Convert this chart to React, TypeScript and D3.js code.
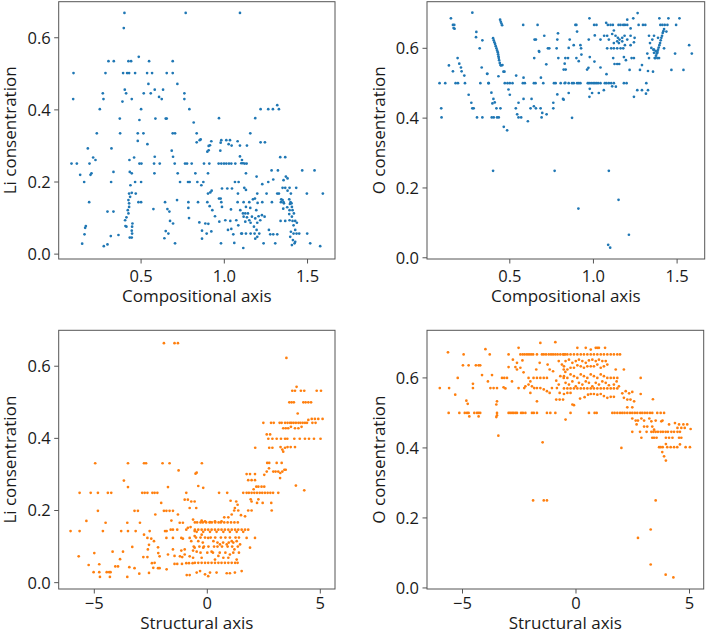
import React from "react";
import * as d3 from "d3";

// ---------- data ----------
const compLi: [number, number][] = [
  [0.40,0.669],[0.396,0.627],[0.768,0.669],[1.094,0.669],[0.486,0.547],
  [0.304,0.535],[0.336,0.535],[0.424,0.535],[0.44,0.535],[0.548,0.535],[0.69,0.535],
  [0.094,0.502],[0.286,0.502],[0.392,0.502],[0.416,0.502],[0.428,0.502],[0.464,0.502],[0.536,0.502],[0.566,0.502],[0.654,0.502],[0.69,0.502],
  [0.718,0.472],[0.544,0.472],
  [0.402,0.456],[0.41,0.446],[0.516,0.446],[0.558,0.446],[0.582,0.456],[0.608,0.436],[0.624,0.43],[0.632,0.456],[0.76,0.446],[0.27,0.446],
  [0.092,0.43],[0.274,0.43],[0.388,0.423],[0.444,0.43],[0.76,0.43],
  [0.252,0.402],[0.5,0.402],[0.79,0.402],
  [0.372,0.376],[0.49,0.372],[0.586,0.376],[0.648,0.376],[0.654,0.376],[0.816,0.365],
  [0.234,0.335],[0.374,0.335],[0.48,0.335],[0.514,0.335],[0.69,0.335],[0.704,0.335],[0.834,0.335],
  [0.48,0.314],[0.538,0.305],[0.834,0.31],
  [0.18,0.293],[0.322,0.293],[0.684,0.287],
  [0.212,0.268],[0.226,0.261],[0.458,0.268],[0.582,0.27],[0.692,0.27],[0.43,0.261],
  [0.082,0.251],[0.114,0.251],[0.19,0.251],[0.49,0.251],[0.502,0.251],[0.578,0.251],[0.612,0.251],[0.702,0.251],[0.764,0.251],[0.776,0.251],[0.804,0.251],
  [0.202,0.224],[0.196,0.22],[0.334,0.228],[0.432,0.228],[0.444,0.224],[0.58,0.224],[0.72,0.224],[0.826,0.224],[0.134,0.22],
  [0.158,0.2],[0.32,0.2],[0.464,0.2],[0.5,0.2],[0.734,0.2],[0.782,0.2],[0.792,0.2],
  [0.436,0.191],
  [0.428,0.168],[0.444,0.17],[0.468,0.168],[0.434,0.159],[0.424,0.15],[0.428,0.141],[0.428,0.131],[0.42,0.122],[0.424,0.113],[0.412,0.102],[0.404,0.094],[0.406,0.078],[0.412,0.076],[0.448,0.085],[0.446,0.076],[0.444,0.065],[0.446,0.057],[0.432,0.046],[0.444,0.046],
  [0.484,0.144],[0.5,0.144],[0.188,0.144],[0.644,0.144],[0.784,0.144],
  [0.574,0.125],[0.658,0.125],[0.67,0.118],[0.784,0.128],[0.298,0.118],[0.334,0.118],
  [0.716,0.15],[0.788,0.1],[0.674,0.092],[0.692,0.085],
  [0.168,0.078],[0.164,0.073],
  [0.16,0.055],[0.318,0.05],[0.364,0.053],[0.648,0.064],[0.664,0.057],[0.64,0.044],
  [0.146,0.029],[0.276,0.022],[0.298,0.027],[0.704,0.03],
  [1.318,0.413],[1.218,0.402],[1.264,0.402],[1.292,0.402],[1.328,0.402],
  [1.186,0.377],[0.968,0.377],[1.156,0.335],
  [0.852,0.316],[0.858,0.318],[0.906,0.3],[0.922,0.313],
  [0.982,0.316],[1.012,0.316],[1.034,0.316],[1.026,0.305],[1.044,0.301],[1.08,0.313],[1.094,0.301],[1.136,0.301],[1.218,0.31],[1.244,0.31],
  [0.978,0.309],[0.914,0.302],[0.898,0.284],[0.906,0.288],[0.976,0.287],
  [1.094,0.271],[1.106,0.261],[1.112,0.252],[1.102,0.252],[1.336,0.269],[1.366,0.269],
  [0.878,0.251],[0.91,0.251],[0.966,0.251],[0.982,0.251],[0.998,0.251],[1.012,0.251],[1.028,0.251],[1.042,0.251],[1.066,0.251],[1.122,0.251],[1.134,0.251],
  [0.902,0.224],[1.13,0.224],[1.194,0.215],[1.284,0.232],[1.322,0.232],[1.468,0.232],[1.542,0.232],
  [1.37,0.215],[1.38,0.21],[1.356,0.205],
  [0.838,0.2],[0.874,0.2],[0.862,0.191],[1.064,0.2],[1.086,0.2],[1.264,0.2],[1.294,0.207],[1.228,0.194],
  [0.924,0.176],[0.902,0.168],[0.916,0.171],[0.986,0.182],[1.018,0.182],[1.046,0.182],[1.12,0.184],[1.13,0.178],
  [1.082,0.168],[1.198,0.168],[1.254,0.168],[1.318,0.168],[1.328,0.168],[1.35,0.184],[1.366,0.184],[1.392,0.184],[1.38,0.176],[1.4,0.168],[1.432,0.184],[1.496,0.168],[1.592,0.168],
  [0.842,0.144],[0.898,0.144],[0.968,0.154],[0.978,0.154],[0.982,0.144],[1.08,0.144],[1.116,0.144],[1.15,0.144],[1.172,0.152],[1.184,0.154],[1.2,0.142],[1.228,0.144],[1.286,0.144],[1.342,0.152],[1.34,0.144],[1.356,0.144],[1.39,0.152],[1.398,0.144],[1.404,0.141],
  [0.912,0.133],[0.928,0.122],[0.986,0.131],[1.04,0.124],[1.096,0.122],[1.13,0.131],[1.156,0.128],[1.192,0.122],[1.354,0.126],[1.41,0.122],[1.378,0.13],[1.39,0.111],
  [1.112,0.113],[1.126,0.113],[1.142,0.113],[1.116,0.104],[1.136,0.102],[1.15,0.094],[1.166,0.104],[1.186,0.099],[1.206,0.105],[1.226,0.108],[1.242,0.104],[1.216,0.094],[1.198,0.087],[1.158,0.087],[1.126,0.09],[1.178,0.076],[1.194,0.067],[1.21,0.057],[1.182,0.057],[1.158,0.057],[1.13,0.057],[1.106,0.057],[1.186,0.043],[1.198,0.048],
  [0.944,0.105],[1.036,0.092],[1.072,0.094],[1.084,0.08],[1.042,0.07],[1.006,0.094],[0.97,0.09],
  [0.85,0.088],[0.886,0.085],[0.904,0.084],[0.922,0.063],[0.866,0.065],[0.894,0.057],[0.866,0.043],
  [1.022,0.067],[1.054,0.055],[1.102,0.057],[1.268,0.067],[1.276,0.055],[1.294,0.055],[1.318,0.055],[1.236,0.03],[1.306,0.03],
  [0.98,0.03],[1.06,0.031],[1.114,0.017],
  [1.394,0.139],[1.406,0.131],[1.392,0.122],[1.418,0.113],[1.406,0.104],[1.392,0.094],[1.41,0.092],[1.426,0.092],[1.436,0.087],[1.416,0.08],[1.426,0.067],[1.4,0.062],[1.416,0.057],[1.434,0.057],[1.45,0.057],[1.396,0.048],[1.412,0.039],[1.422,0.03],[1.406,0.025],[1.426,0.034],[1.498,0.057],[1.516,0.03],[1.576,0.022],[1.338,0.092],[1.366,0.092],
  [1.35,0.15],[1.358,0.141],
];

const compO: [number, number][] = [
  [0.148,0.686],[0.276,0.702],[0.16,0.667],[0.168,0.667],[0.17,0.656],[0.164,0.658],
  [0.442,0.682],[0.446,0.676],[0.45,0.671],[0.454,0.666],[0.58,0.667],[0.666,0.667],
  [0.3,0.647],[0.298,0.632],[0.336,0.623],[0.32,0.6],[0.332,0.545],[0.364,0.527],[0.374,0.5],[0.39,0.473],[0.402,0.455],[0.41,0.445],[0.42,0.428],[0.404,0.402],[0.424,0.402],[0.434,0.402],[0.444,0.428],[0.464,0.375],[0.484,0.365],[0.492,0.482],[0.5,0.467],[0.486,0.5],[0.47,0.5],[0.516,0.5],[0.538,0.522],[0.582,0.516],[0.582,0.455],[0.552,0.444],[0.536,0.428],[0.544,0.411],[0.552,0.402],[0.568,0.402],[0.608,0.391],[0.63,0.455],[0.624,0.428],[0.644,0.434],[0.656,0.428],[0.684,0.428],[0.694,0.415],[0.69,0.402],[0.72,0.411],[0.686,0.516],[0.7,0.5],[0.76,0.444],[0.76,0.428],[0.784,0.468],[0.818,0.455],[0.79,0.572],[0.78,0.6],[0.784,0.625],[0.788,0.643],[0.706,0.636],[0.656,0.625],[0.648,0.625],[0.646,0.572],[0.674,0.592],[0.676,0.59],[0.718,0.554],[0.728,0.6],[0.736,0.6],[0.828,0.556],[0.834,0.539],[0.832,0.501],[0.804,0.5],[0.764,0.5],[0.774,0.5],[0.644,0.5],[0.654,0.5],[0.59,0.5],[0.578,0.5],[0.5,0.5],
  [0.4,0.629],[0.404,0.623],[0.408,0.617],[0.412,0.612],[0.416,0.606],[0.42,0.6],[0.424,0.594],[0.428,0.589],[0.43,0.583],[0.432,0.577],[0.434,0.572],[0.436,0.566],[0.44,0.558],[0.444,0.552],[0.448,0.551],[0.456,0.552],[0.462,0.533],[0.468,0.533],[0.432,0.52],
  [0.08,0.5],[0.114,0.5],[0.09,0.428],[0.092,0.402],
  [0.136,0.551],[0.16,0.534],[0.188,0.572],[0.198,0.556],[0.208,0.545],[0.212,0.534],[0.228,0.522],[0.176,0.5],[0.19,0.5],[0.232,0.5],[0.254,0.467],[0.27,0.444],[0.276,0.428],[0.284,0.428],[0.304,0.402],[0.336,0.402],[0.392,0.402],[0.396,0.442],[0.372,0.5],[0.324,0.5],[0.366,0.527],
  [0.4,0.249],[0.768,0.249],
  [1.264,0.701],[1.202,0.682],[1.238,0.686],[0.976,0.686],[1.394,0.686],[1.448,0.686],[1.514,0.686],
  [0.892,0.667],[0.898,0.667],[1.004,0.667],[1.018,0.667],[1.076,0.673],[1.086,0.667],[1.102,0.667],[1.116,0.667],[1.15,0.667],[1.162,0.667],[1.178,0.667],[1.188,0.667],[1.202,0.667],[1.27,0.667],[1.296,0.667],[1.31,0.667],[1.4,0.667],[1.412,0.667],[1.426,0.667],[1.442,0.667],[1.494,0.667],
  [0.902,0.648],[1.122,0.651],[1.222,0.657],[1.436,0.648],[1.422,0.655],
  [0.858,0.625],[0.972,0.625],[1.008,0.637],[1.042,0.625],[1.064,0.636],[1.082,0.636],[1.092,0.625],[1.112,0.641],[1.132,0.636],[1.146,0.63],[1.156,0.625],[1.172,0.63],[1.186,0.636],[1.202,0.625],[1.222,0.636],[1.246,0.63],[1.332,0.636],[1.362,0.636],[1.352,0.625],[1.386,0.63],
  [0.852,0.601],[0.882,0.609],[0.922,0.609],[0.926,0.6],[1.082,0.6],[1.106,0.6],[1.122,0.6],[1.142,0.6],[1.162,0.6],[1.178,0.6],[1.188,0.609],[1.222,0.609],[1.122,0.615],[1.152,0.615],[1.142,0.62],[1.172,0.62],[1.242,0.617],[1.338,0.615],[1.346,0.601],[1.362,0.596],[1.372,0.592],[1.382,0.587],[1.422,0.6],[1.572,0.609],[1.588,0.585],
  [1.418,0.649],[1.414,0.644],[1.41,0.636],[1.406,0.63],[1.402,0.623],[1.398,0.615],[1.394,0.609],[1.39,0.602],[1.386,0.596],[1.382,0.591],[1.378,0.585],[1.374,0.579],[1.37,0.572],[1.366,0.572],[1.362,0.587],[1.358,0.596],[1.382,0.572],[1.392,0.572],
  [0.832,0.572],[0.848,0.572],[0.898,0.572],[0.912,0.563],[0.928,0.582],[0.978,0.575],[1.006,0.562],[1.042,0.545],[1.118,0.572],[1.126,0.555],[1.142,0.555],[1.154,0.555],[1.182,0.575],[1.194,0.566],[1.228,0.572],[1.242,0.572],[1.29,0.552],[1.322,0.585],[1.332,0.572],[1.488,0.585],[0.822,0.539],[0.962,0.539],[0.97,0.544],[1.078,0.526],[1.216,0.538],[1.278,0.538],[1.326,0.535],[1.356,0.533],[1.466,0.538],[1.538,0.538],
  [0.828,0.5],[0.852,0.5],[0.872,0.5],[0.882,0.5],[0.902,0.5],[0.912,0.5],[0.922,0.5],[0.966,0.5],[0.974,0.5],[0.986,0.5],[0.998,0.5],[1.008,0.5],[1.018,0.5],[1.028,0.5],[1.042,0.5],[1.068,0.5],[1.078,0.5],[1.092,0.5],[1.106,0.5],[1.122,0.5],[1.134,0.49],[1.182,0.5],[1.198,0.5],[1.316,0.5],
  [0.978,0.484],[0.976,0.461],[0.992,0.472],[1.032,0.472],[1.062,0.48],[1.112,0.491],[1.242,0.461],[1.262,0.48],[1.29,0.48],[1.314,0.47],[1.326,0.48],[0.852,0.472],[0.872,0.401],[0.822,0.453],
  [1.092,0.249],[1.15,0.166],[0.91,0.141],[1.212,0.066],[1.088,0.037],[1.1,0.029],
];

const structLi: [number, number][] = [
  [-1.92,0.664],[-1.45,0.664],[-1.3,0.664],
  [-4.96,0.331],[-3.51,0.331],[-2.8,0.331],[-2.71,0.331],[-1.98,0.331],[-1.67,0.331],[-0.24,0.331],
  [-1.27,0.311],[-0.52,0.302],[-3.69,0.283],[-3.51,0.265],[-1.74,0.265],[-0.47,0.305],[-0.4,0.268],[-0.18,0.263],
  [-5.65,0.249],[-5.16,0.249],[-4.84,0.249],[-4.4,0.249],[-4.25,0.249],[-2.88,0.249],[-2.77,0.249],[-2.65,0.249],[-2.43,0.249],[-2.33,0.249],[-2.21,0.249],[-0.93,0.249],
  [-2.04,0.221],[-1.0,0.23],[-0.86,0.23],[-0.71,0.225],[-0.56,0.225],[-0.49,0.207],[-0.78,0.207],
  [-4.84,0.199],[-3.22,0.199],[-3.07,0.199],[-1.92,0.199],[-1.81,0.199],[-1.67,0.199],[-1.52,0.199],
  [-2.3,0.189],[-1.3,0.189],
  [-5.35,0.171],[-4.5,0.166],[-2.98,0.166],[-3.54,0.166],[-1.59,0.172],[-1.22,0.166],[-1.08,0.166],[-0.63,0.175],
  [-6.05,0.143],[-5.65,0.143],[-4.62,0.143],[-3.81,0.143],[-3.51,0.143],[-3.17,0.143],[-2.55,0.143],[-1.87,0.143],[-1.8,0.143],[-1.62,0.147],[-1.52,0.147],[-1.33,0.147],[-0.93,0.147],[-0.86,0.152],[-0.74,0.154],[-0.56,0.143],
  [-2.8,0.133],[-2.65,0.124],[-2.48,0.122],[-2.36,0.115],[-1.81,0.124],[-1.52,0.124],[-1.15,0.124],[-1.08,0.122],[-0.78,0.124],[-0.71,0.115],[-0.56,0.129],
  [-3.32,0.099],[-2.63,0.092],[-2.58,0.105],[-2.18,0.098],[-1.52,0.092],[-1.15,0.089],[-1.0,0.092],[-0.63,0.089],[-0.56,0.097],
  [-5.69,0.073],[-5.0,0.082],[-4.19,0.086],[-3.73,0.086],[-3.86,0.065],[-2.83,0.071],[-2.65,0.071],[-2.17,0.082],[-2.11,0.073],[-1.74,0.078],[-1.45,0.074],[-1.21,0.073],[-1.11,0.071],[-1.0,0.078],[-0.78,0.073],[-0.63,0.069],
  [-5.25,0.049],[-4.78,0.051],[-4.07,0.045],[-3.95,0.045],[-3.45,0.043],[-3.22,0.04],[-2.45,0.054],[-2.33,0.055],[-2.39,0.041],[-2.18,0.04],[-2.11,0.04],[-1.8,0.037],[-1.45,0.052],[-1.33,0.052],[-1.12,0.052],[-0.93,0.054],[-0.81,0.054],[-0.65,0.054],
  [-5.03,0.029],[-4.78,0.029],[-4.45,0.029],[-4.34,0.029],[-4.28,0.029],[-4.75,0.016],[-4.31,0.016],[-3.01,0.025],[-3.54,0.016],[-2.58,0.027],[-0.91,0.021],[-0.78,0.021],
  [3.5,0.623],
  [3.95,0.543],[3.76,0.532],[3.88,0.532],[4.14,0.532],[4.29,0.532],[4.84,0.532],[5.03,0.532],
  [3.63,0.5],[3.73,0.5],[3.83,0.5],[4.25,0.5],[4.35,0.5],[4.47,0.5],[4.59,0.5],
  [4.0,0.469],[4.47,0.451],[4.62,0.454],[4.76,0.454],[4.91,0.454],[5.1,0.454],
  [2.48,0.443],[2.82,0.443],[2.94,0.443],[3.2,0.443],[3.29,0.443],[3.44,0.443],[3.55,0.443],[3.66,0.443],[3.73,0.443],[3.82,0.443],[3.92,0.443],[4.03,0.443],[4.12,0.443],[4.22,0.443],[4.32,0.443],[4.41,0.443],[4.65,0.443],[4.79,0.443],
  [3.36,0.428],[3.47,0.428],[3.58,0.428],[3.7,0.432],[3.88,0.428],[4.03,0.428],[4.17,0.432],
  [2.63,0.411],[2.78,0.411],
  [2.7,0.399],[2.88,0.399],[3.07,0.399],[3.26,0.399],[3.44,0.399],[3.54,0.399],[3.85,0.399],[4.09,0.399],[4.32,0.399],[4.5,0.399],[4.72,0.399],[5.01,0.399],
  [2.12,0.374],[2.74,0.374],[2.88,0.374],[3.24,0.376],[3.32,0.369],[3.36,0.363],[3.44,0.374],[3.55,0.376],[3.69,0.376],[3.88,0.376],
  [2.65,0.332],[2.74,0.332],[3.07,0.332],[3.29,0.332],[2.73,0.317],[2.63,0.308],[2.52,0.299],[2.92,0.308],[3.02,0.308],[3.14,0.308],[3.23,0.304],[3.32,0.308],[3.41,0.313],[3.47,0.313],[3.22,0.29],[3.92,0.269],[4.29,0.256],
  [1.74,0.301],[1.89,0.301],[2.11,0.301],[1.81,0.284],[1.96,0.284],[2.11,0.284],[2.26,0.266],[2.4,0.266],[2.52,0.266],[2.05,0.259],[2.17,0.266],
  [1.59,0.249],[1.74,0.249],[1.84,0.249],[1.96,0.249],[2.08,0.249],[2.2,0.249],[2.32,0.249],[2.43,0.249],[2.55,0.249],[2.67,0.249],[2.79,0.249],[2.91,0.249],[3.14,0.249],[0.52,0.249],[0.88,0.249],
  [1.92,0.231],[1.96,0.225],[2.26,0.231],[2.2,0.221],[2.45,0.221],[2.83,0.221],[2.85,0.2],[1.81,0.2],[1.96,0.2],
  [1.03,0.227],[1.28,0.225],[1.34,0.216],[1.22,0.207],[1.19,0.2],[1.37,0.2],[1.49,0.187],[1.67,0.184],[1.08,0.189],[0.93,0.181],[0.75,0.181],[0.63,0.17],[0.34,0.17],[0.12,0.168],[-0.1,0.17],[-0.25,0.172],
  [-0.55,0.147],[-0.4,0.147],[-0.25,0.147],[-0.1,0.147],[0.04,0.147],[0.19,0.147],[0.34,0.147],[0.49,0.147],[0.63,0.147],[0.78,0.147],[0.93,0.147],[1.08,0.147],[1.23,0.147],[1.37,0.147],[1.52,0.147],[1.67,0.147],[1.81,0.147],
  [-0.47,0.141],[-0.18,0.141],[0.12,0.141],[0.41,0.141],[0.71,0.141],[1.0,0.141],[1.3,0.141],[1.59,0.141],
  [1.74,0.124],[2.11,0.124],[1.89,0.097],[1.3,0.115],[1.45,0.106],[1.08,0.115],[0.86,0.106],[0.56,0.106],[0.27,0.115],[0.04,0.124],[-0.25,0.133],[-0.4,0.115],[1.2,0.092],[1.0,0.078],[0.71,0.069],[0.49,0.074],[0.19,0.086],[-0.18,0.097],[-0.47,0.086],
  [-0.55,0.055],[-0.4,0.055],[-0.25,0.055],[-0.1,0.055],[0.04,0.055],[0.19,0.055],[0.34,0.055],[0.49,0.055],[0.63,0.055],[0.78,0.055],[0.93,0.055],[1.08,0.055],[1.23,0.055],[1.34,0.055],
  [-0.25,0.069],[0.34,0.064],[0.93,0.069],[1.3,0.064],
  [-0.32,0.032],[-0.1,0.023],[0.12,0.028],[0.41,0.028],[0.86,0.026],[1.0,0.026],[1.22,0.028],[1.52,0.032],[0.04,0.018],[-0.47,0.028],
  [-0.55,0.167],[-0.45,0.167],[-0.3,0.167],[-0.2,0.167],[-0.05,0.167],[0.1,0.167],[0.2,0.167],[0.35,0.167],[0.5,0.167],[0.6,0.167],[0.75,0.167],[0.9,0.167],[1.05,0.167],[1.2,0.167],[1.35,0.167],
  [-0.5,0.125],[-0.3,0.125],[-0.1,0.125],[0.15,0.125],[0.35,0.125],[0.6,0.125],[0.8,0.125],[1.0,0.125],[1.25,0.125],[1.4,0.125],
  [-0.6,0.1],[-0.35,0.1],[-0.15,0.1],[0.05,0.1],[0.3,0.1],[0.45,0.1],[0.65,0.1],[0.9,0.1],[1.1,0.1],[1.35,0.1],
  [-0.3,0.083],[0.0,0.083],[0.25,0.083],[0.55,0.083],[0.8,0.083],[1.15,0.083],[1.4,0.083],
  [-0.2,0.111],[0.45,0.111],[0.7,0.111],[0.95,0.111],[1.15,0.111],
];

const structO: [number, number][] = [
  [-5.64,0.673],[-1.57,0.7],[-0.91,0.702],[-2.53,0.686],[-3.99,0.682],[-4.95,0.667],[-3.8,0.667],
  [-2.45,0.667],[-2.35,0.667],[-2.26,0.667],[-2.16,0.667],[-2.07,0.667],[-1.98,0.667],[-1.89,0.667],[-1.72,0.667],[-1.5,0.667],[-1.42,0.667],[-1.32,0.667],[-1.2,0.667],[-1.1,0.667],[-1.01,0.667],[-0.91,0.667],[-0.81,0.667],[-0.69,0.667],[-0.57,0.667],[-0.47,0.667],
  [-2.97,0.667],[-2.78,0.652],[-2.6,0.643],[-2.36,0.65],[-2.97,0.631],[-2.6,0.624],[-2.31,0.616],[-2.67,0.631],[-2.45,0.629],[-1.75,0.624],[-1.6,0.643],[-1.25,0.638],[-1.16,0.624],[-1.01,0.619],[-0.76,0.648],[-0.62,0.638],
  [-4.98,0.636],[-4.73,0.636],[-4.41,0.636],[-4.29,0.636],[-4.22,0.636],[-5.21,0.6],[-4.54,0.583],[-4.54,0.571],[-4.14,0.608],[-3.88,0.59],[-3.7,0.608],[-3.77,0.571],[-3.63,0.571],[-3.48,0.571],[-3.26,0.6],[-3.16,0.6],[-3.04,0.6],[-3.19,0.573],[-3.11,0.57],[-3.48,0.533],[-2.82,0.59],
  [-6.0,0.571],[-5.59,0.571],[-5.32,0.552],[-4.83,0.535],[-4.77,0.526],[-3.51,0.524],[-3.48,0.493],[-3.51,0.488],[-3.42,0.435],[-2.53,0.571],[-2.28,0.571],[-2.09,0.6],[-2.01,0.59],[-1.87,0.6],[-1.72,0.6],[-1.57,0.6],[-1.42,0.6],[-1.28,0.6],[-2.09,0.581],[-1.94,0.576],[-1.84,0.571],[-1.72,0.571],[-1.57,0.571],[-1.42,0.567],[-1.28,0.562],[-2.23,0.576],[-2.01,0.557],[-1.72,0.533],[-1.16,0.557],[-0.87,0.538],[-0.72,0.538],[-0.57,0.538],[-0.72,0.557],[-0.84,0.571],[-1.06,0.571],[-0.87,0.592],[-0.76,0.581],[-0.69,0.605],[-0.54,0.6],[-0.47,0.617],[-0.54,0.624],
  [-5.61,0.5],[-5.14,0.5],[-4.9,0.5],[-4.8,0.5],[-4.73,0.5],[-4.48,0.5],[-4.36,0.5],[-4.29,0.5],[-4.22,0.5],[-3.48,0.5],[-2.97,0.5],[-2.9,0.5],[-2.82,0.5],[-2.75,0.5],[-2.67,0.5],[-2.6,0.5],[-2.42,0.5],[-2.34,0.5],[-2.23,0.5],[-1.94,0.5],[-1.86,0.5],[-1.72,0.5],[-1.28,0.5],[-1.13,0.5],[-0.91,0.5],
  [-4.7,0.49],[-4.29,0.49],[-1.47,0.416],[-1.89,0.25],[-1.42,0.25],[-1.28,0.25],
  [0.06,0.686],[0.43,0.686],[0.87,0.686],[0.94,0.686],[1.01,0.686],[1.28,0.686],[0.65,0.681],
  [-0.53,0.667],[-0.38,0.667],[-0.24,0.667],[-0.09,0.667],[0.06,0.667],[0.21,0.667],[0.35,0.667],[0.5,0.667],[0.65,0.667],[0.79,0.667],[0.94,0.667],[1.09,0.667],[1.23,0.667],[1.38,0.667],[1.53,0.667],[1.67,0.667],[1.82,0.667],[1.94,0.667],
  [-0.46,0.648],[-0.31,0.652],[-0.16,0.643],[-0.01,0.648],[0.13,0.652],[0.28,0.648],[0.43,0.643],[0.57,0.65],[0.72,0.652],[0.87,0.648],[1.01,0.652],[1.16,0.648],[1.31,0.648],[1.38,0.638],[1.23,0.633],[1.09,0.629],[0.94,0.638],[0.79,0.633],[0.65,0.633],[0.5,0.633],[0.35,0.629],[0.21,0.633],[0.06,0.636],[-0.09,0.629],[-0.24,0.629],[-0.38,0.624],[-0.53,0.633],
  [-0.53,0.605],[-0.38,0.6],[-0.24,0.61],[-0.09,0.605],[0.06,0.6],[0.21,0.61],[0.35,0.605],[0.5,0.6],[0.65,0.61],[0.79,0.605],[0.94,0.6],[1.09,0.61],[1.23,0.605],[1.38,0.6],[1.53,0.6],[1.67,0.6],[1.82,0.6],[1.75,0.624],[2.11,0.624],[2.85,0.6],
  [-0.46,0.586],[-0.31,0.581],[-0.16,0.59],[-0.01,0.576],[0.13,0.586],[0.28,0.581],[0.43,0.59],[0.57,0.586],[0.72,0.576],[0.87,0.586],[1.01,0.581],[1.16,0.59],[1.31,0.586],[1.45,0.579],[1.67,0.581],[1.79,0.59],[1.89,0.576],
  [-0.53,0.57],[-0.38,0.57],[-0.24,0.57],[-0.09,0.57],[0.06,0.57],[0.21,0.57],[0.35,0.57],[0.5,0.57],[0.65,0.57],[0.79,0.57],[0.94,0.57],[1.09,0.57],[1.23,0.57],[1.38,0.57],[1.53,0.57],[1.67,0.57],[1.82,0.57],
  [-0.53,0.554],[-0.38,0.557],[-0.24,0.557],[0.18,0.541],[0.38,0.545],[0.53,0.552],[0.65,0.554],[0.79,0.554],[0.94,0.552],[1.09,0.554],[1.23,0.548],[1.38,0.543],[1.53,0.546],[1.67,0.546],[2.04,0.556],[2.19,0.562],[2.34,0.556],[2.48,0.56],[2.11,0.543],[2.26,0.538],[2.4,0.538],[2.85,0.554],[2.56,0.533],[3.39,0.539],
  [-0.16,0.524],[-0.09,0.522],[-0.24,0.5],[0.57,0.5],[0.82,0.5],[0.91,0.5],[-0.46,0.481],[2.26,0.516],[2.48,0.516],
  [1.6,0.5],[1.7,0.5],[1.82,0.5],[1.94,0.5],[2.04,0.5],[2.14,0.5],[2.26,0.5],[2.38,0.5],[2.48,0.5],[2.59,0.5],[2.7,0.5],[2.83,0.5],[2.92,0.5],[3.03,0.5],[3.14,0.5],[3.26,0.5],[3.36,0.5],[3.58,0.5],[3.73,0.5],[3.88,0.5],
  [2.48,0.484],[2.63,0.478],[2.73,0.478],[2.88,0.484],[3.0,0.478],[3.23,0.484],[3.32,0.476],[3.51,0.478],[3.81,0.478],[2.67,0.467],[3.0,0.461],[3.14,0.461],[3.36,0.461],[3.44,0.452],[3.76,0.476],
  [2.48,0.446],[2.82,0.446],[3.11,0.446],[3.32,0.446],[3.41,0.446],[3.51,0.446],[3.61,0.446],[3.73,0.446],[3.83,0.446],[3.95,0.446],[4.05,0.446],[4.2,0.446],[4.32,0.446],[4.47,0.446],[4.58,0.446],
  [4.1,0.467],[4.36,0.471],[4.47,0.457],[4.64,0.457],[4.79,0.457],[4.9,0.467],[5.05,0.454],[4.73,0.467],[4.54,0.467],
  [2.88,0.429],[3.36,0.429],[3.44,0.429],[3.55,0.429],[3.96,0.429],[4.1,0.429],[4.25,0.429],[4.54,0.429],[4.64,0.429],
  [2.0,0.4],[3.66,0.402],[3.73,0.402],[3.82,0.402],[4.02,0.402],[4.17,0.402],[4.32,0.402],[4.46,0.402],[4.58,0.41],[4.83,0.402],[5.02,0.402],[3.96,0.411],
  [3.8,0.388],[3.88,0.376],[3.96,0.364],
  [3.51,0.25],[3.29,0.167],[2.73,0.143],[3.29,0.067],[3.95,0.038],[4.29,0.03],
];

const compTicks = [0.5, 1.0, 1.5];
const structTicks = [-5, 0, 5];
const liTicks = [0.0, 0.2, 0.4, 0.6];
const oTicks = [0.0, 0.2, 0.4, 0.6];

const BLUE = "#1f77b4";
const ORANGE = "#ff7f0e";
const FONT = "'Open Sans', 'DejaVu Sans', sans-serif";

type PanelProps = {
  data: [number, number][];
  box: { l: number; t: number; r: number; b: number };
  xDomain: [number, number];
  yDomain: [number, number];
  xTicks: number[];
  yTicks: number[];
  xFmt: (v: number) => string;
  xLabel: string;
  yLabel: string;
  color: string;
  xTickBase: number;
  xLabelBase: number;
  yLabelX: number;
};

function Panel(p: PanelProps) {
  const x = d3.scaleLinear().domain(p.xDomain).range([p.box.l, p.box.r]);
  const y = d3.scaleLinear().domain(p.yDomain).range([p.box.b, p.box.t]);
  const axisColor = "#555";
  const textColor = "#1a1a1a";
  const cy = (p.box.t + p.box.b) / 2;
  return (
    <g>
      {p.data.map((d, i) => (
        <circle key={i} cx={x(d[0])} cy={y(d[1])} r={1.35} fill={p.color} />
      ))}
      <rect
        x={p.box.l}
        y={p.box.t}
        width={p.box.r - p.box.l}
        height={p.box.b - p.box.t}
        fill="none"
        stroke={axisColor}
        strokeWidth={1}
      />
      {p.yTicks.map((t) => (
        <g key={"y" + t}>
          <line x1={p.box.l - 4.5} x2={p.box.l} y1={y(t)} y2={y(t)} stroke={axisColor} />
          <text
            x={p.box.l - 8}
            y={y(t)}
            dy="0.36em"
            textAnchor="end"
            fontFamily={FONT}
            fontSize={16.5}
            fill={textColor}
          >
            {t.toFixed(1)}
          </text>
        </g>
      ))}
      {p.xTicks.map((t) => (
        <g key={"x" + t}>
          <line x1={x(t)} x2={x(t)} y1={p.box.b} y2={p.box.b + 4.5} stroke={axisColor} />
          <text
            x={x(t)}
            y={p.xTickBase}
            textAnchor="middle"
            fontFamily={FONT}
            fontSize={16.5}
            fill={textColor}
          >
            {p.xFmt(t)}
          </text>
        </g>
      ))}
      <text
        x={(p.box.l + p.box.r) / 2}
        y={p.xLabelBase}
        textAnchor="middle"
        fontFamily={FONT}
        fontSize={17}
        fill={textColor}
      >
        {p.xLabel}
      </text>
      <text
        transform={`translate(${p.yLabelX},${cy}) rotate(-90)`}
        textAnchor="middle"
        fontFamily={FONT}
        fontSize={17}
        fill={textColor}
      >
        {p.yLabel}
      </text>
    </g>
  );
}

const fmtComp = (v: number) => v.toFixed(1);
const fmtStruct = (v: number) => (v < 0 ? "\u2212" + Math.abs(v) : String(v));

export default function App() {
  return (
    <svg
      width={706}
      height={633}
      style={{ position: "absolute", left: 0, top: 0, background: "#fff" }}
    >
      <rect width={706} height={633} fill="#fff" />
      <Panel
        data={compLi}
        box={{ l: 58.7, t: 1.7, r: 335, b: 259 }}
        xDomain={[0.005, 1.665]}
        yDomain={[-0.0135, 0.7]}
        xTicks={compTicks}
        yTicks={liTicks}
        xFmt={fmtComp}
        xLabel="Compositional axis"
        yLabel="Li consentration"
        color={BLUE}
        xTickBase={282}
        xLabelBase={302}
        yLabelX={16}
      />
      <Panel
        data={compO}
        box={{ l: 427, t: 1.7, r: 704.7, b: 259 }}
        xDomain={[0.005, 1.665]}
        yDomain={[-0.0035, 0.7335]}
        xTicks={compTicks}
        yTicks={oTicks}
        xFmt={fmtComp}
        xLabel="Compositional axis"
        yLabel="O consentration"
        color={BLUE}
        xTickBase={282}
        xLabelBase={302}
        yLabelX={385}
      />
      <Panel
        data={structLi}
        box={{ l: 58.7, t: 330.3, r: 335, b: 589 }}
        xDomain={[-6.575, 5.65]}
        yDomain={[-0.0176, 0.6996]}
        xTicks={structTicks}
        yTicks={liTicks}
        xFmt={fmtStruct}
        xLabel="Structural axis"
        yLabel="Li consentration"
        color={ORANGE}
        xTickBase={609}
        xLabelBase={629}
        yLabelX={16}
      />
      <Panel
        data={structO}
        box={{ l: 427, t: 330.3, r: 703.7, b: 589 }}
        xDomain={[-6.564, 5.626]}
        yDomain={[-0.003, 0.736]}
        xTicks={structTicks}
        yTicks={oTicks}
        xFmt={fmtStruct}
        xLabel="Structural axis"
        yLabel="O consentration"
        color={ORANGE}
        xTickBase={609}
        xLabelBase={629}
        yLabelX={385}
      />
    </svg>
  );
}
